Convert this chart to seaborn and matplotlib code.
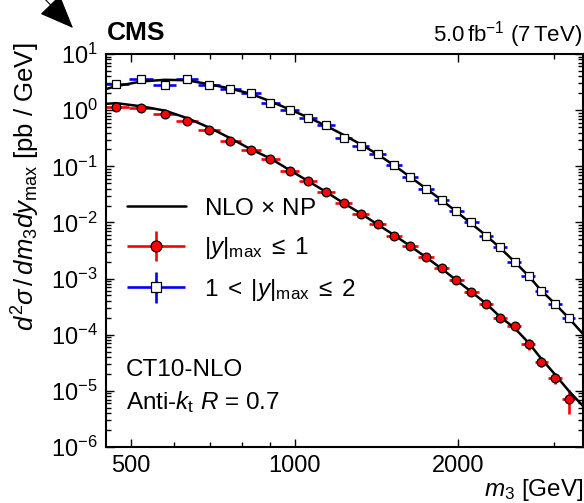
import seaborn as sns
import matplotlib.pyplot as plt
import numpy as np
from matplotlib.patches import FancyArrowPatch
from matplotlib.legend_handler import HandlerErrorbar
from matplotlib.ticker import FixedLocator, FixedFormatter, NullFormatter, LogLocator

sns.set_style("ticks")
plt.rcParams['font.family'] = ['Liberation Sans', 'DejaVu Sans']
plt.rcParams['mathtext.fontset'] = 'custom'
plt.rcParams['mathtext.rm'] = 'Liberation Sans'
plt.rcParams['mathtext.it'] = 'Liberation Sans:italic'
plt.rcParams['mathtext.bf'] = 'Liberation Sans:bold'
plt.rcParams['text.color'] = 'black'
plt.rcParams['axes.labelcolor'] = 'black'

# --- data ---
m3 = [470, 523, 577, 635, 697, 762, 831, 903, 979, 1059, 1144, 1231, 1325, 1423,
      1526, 1633, 1745, 1865, 1985, 2115, 2253, 2392, 2539, 2694, 2835, 3015, 3192]
m3_lo = [445, 496, 549, 605, 665, 729, 796, 866, 940, 1018, 1101, 1187, 1277, 1373,
         1474, 1579, 1688, 1804, 1924, 2049, 2183, 2321, 2464, 2615, 2764, 2924, 3102]
m3_hi = [496, 549, 605, 665, 729, 796, 866, 940, 1018, 1101, 1187, 1277, 1373, 1474,
         1579, 1688, 1804, 1924, 2049, 2183, 2321, 2464, 2615, 2764, 2924, 3102, 3280]

xsec_central = [1.16, 1.09, 0.86, 0.644, 0.44, 0.287, 0.195, 0.137, 0.0824, 0.0542,
                0.0352, 0.0218, 0.01406, 0.00944, 0.00577, 0.00388, 0.00240, 0.001546,
                0.000933, 0.000586, 0.000359, 0.000197, 0.0001425, 6.9e-5, 3.33e-5,
                1.71e-5, 7.08e-6]
xsec_forward = [2.95, 3.58, 2.75, 3.52, 2.75, 2.43, 2.06, 1.33, 1.0, 0.714, 0.546,
                0.324, 0.228, 0.164, 0.1042, 0.0637, 0.0393, 0.0250, 0.0159, 0.0100,
                0.00577, 0.00362, 0.00198, 0.0011, 0.000611, 0.000352, 0.000201]
err_central_pct = [4, 4, 4, 4, 4, 4, 4, 4, 5, 5, 5, 5, 6, 6, 6, 7, 7, 8, 8, 9, 10,
                   10, 12, 22, 20, 22, 45]
err_forward_pct = [4, 4, 4, 4, 4, 4, 4, 4, 4, 4, 4, 4, 5, 5, 5, 5, 5, 6, 6, 6, 7,
                   7, 8, 9, 10, 12, 15]

theory_m3 = [450, 470, 523, 577, 635, 697, 762, 831, 903, 979, 1059, 1144, 1231, 1325,
             1423, 1526, 1633, 1745, 1865, 1985, 2115, 2253, 2392, 2539, 2694, 2835,
             3015, 3192, 3400]
theory_central = [1.296, 1.334, 1.169, 0.984, 0.72, 0.489, 0.316, 0.201, 0.138, 0.0859,
                  0.0546, 0.0348, 0.0221, 0.01436, 0.00914, 0.00593, 0.00378, 0.0024,
                  0.0015, 0.000933, 0.000581, 0.000356, 0.000206, 0.000132, 7.2e-5,
                  3.88e-5, 1.95e-5, 1.01e-5, 5.25e-6]
theory_forward = [2.371, 2.683, 3.241, 3.475, 3.404, 2.89, 2.43, 1.954, 1.436, 1.033,
                  0.743, 0.525, 0.362, 0.245, 0.1625, 0.1033, 0.0644, 0.0402, 0.0250,
                  0.0156, 0.00952, 0.00581, 0.00348, 0.0020, 0.00112, 0.00063, 0.000355,
                  0.0002, 0.000101]

label_central = r'$|y|_{\mathrm{max}}\;\leq\;1$'
label_forward = r'$1\;<\;|y|_{\mathrm{max}}\;\leq\;2$'

fig = plt.figure(figsize=(5.84, 5.03), dpi=100)
ax = fig.add_axes([0.1815, 0.1113, 0.8176, 0.7813])
ax.set_xscale('log')
ax.set_yscale('log')

# theory curves
sns.lineplot(x=theory_m3, y=theory_forward, ax=ax, color='black', lw=1.8,
             label='_nolegend_', zorder=2)
sns.lineplot(x=theory_m3, y=theory_central, ax=ax, color='black', lw=1.8,
             label=r'NLO $\times$ NP', zorder=2)


def draw_points(y, pct, color, marker, face, ms, label):
    x = np.array(m3)
    y = np.array(y)
    xerr = [x - np.array(m3_lo), np.array(m3_hi) - x]
    yerr = y * np.array(pct) / 100.0
    cont = ax.errorbar(x, y, xerr=xerr, yerr=yerr, fmt=marker, color=color,
                       mfc=face, mec='black', mew=0.9, ms=ms, elinewidth=1.9,
                       capsize=0, label=label, zorder=3)
    for bl in cont[2]:
        bl.set_zorder(1.5)
    return cont


h_c = draw_points(xsec_central, err_central_pct, 'red', 'o', 'red', 6.3, label_central)
h_f = draw_points(xsec_forward, err_forward_pct, 'blue', 's', 'white', 5.6, label_forward)

ax.set_xlim(450, 3400)
ax.set_ylim(1e-6, 10)

ax.xaxis.set_major_locator(FixedLocator([500, 1000, 2000]))
ax.xaxis.set_major_formatter(FixedFormatter(['500', '1000', '2000']))
ax.xaxis.set_minor_locator(FixedLocator([600, 700, 800, 900, 3000]))
ax.xaxis.set_minor_formatter(NullFormatter())
ax.yaxis.set_major_locator(LogLocator(base=10, numticks=20))
ax.yaxis.set_minor_locator(LogLocator(base=10, subs=np.arange(2, 10), numticks=20))
ax.yaxis.set_minor_formatter(NullFormatter())

ax.tick_params(which='both', direction='in', top=True, right=True, width=1.0,
               labelsize=17, colors='black')
ax.tick_params(which='major', length=6)
ax.tick_params(which='minor', length=3.5)
ax.tick_params(axis='y', pad=6)
ax.tick_params(axis='x', pad=6)
for s in ax.spines.values():
    s.set_linewidth(1.5)
    s.set_color('black')

ax.set_xlabel(r'$m_{3}$ [GeV]', fontsize=17.5, loc='right')
ax.xaxis.set_label_coords(1.0, -0.076)
ax.set_ylabel(r'$d^{2}\sigma\,/\,dm_{3}dy_{\mathrm{max}}$ [pb / GeV]', fontsize=18.5,
              loc='top')
ax.yaxis.set_label_coords(-0.135, 1.028)

handles, labels = ax.get_legend_handles_labels()
line_h = [h for h, l in zip(handles, labels) if l.startswith('NLO')][0]
err_handler = HandlerErrorbar(xerr_size=1.2, yerr_size=0.62)
ax.legend([line_h, h_c, h_f], [r'NLO $\times$ NP', label_central, label_forward],
          loc='upper left', bbox_to_anchor=(0.043, 0.634), frameon=False,
          fontsize=17.5, handlelength=2.45, handletextpad=0.75, labelspacing=0.64,
          borderpad=0, borderaxespad=0, markerscale=1.25,
          handler_map={h_c: err_handler, h_f: err_handler})

ax.text(0.041, 0.196, 'CT10-NLO', transform=ax.transAxes, fontsize=17.5, va='center')
ax.text(0.041, 0.115, r'Anti-$k_{\mathrm{t}}$ $R$ = 0.7', transform=ax.transAxes,
        fontsize=17.5, va='center')

fig.text(0.1827, 0.934, 'CMS', fontsize=19, fontweight='bold', va='center', ha='left')
fig.text(0.997, 0.932, r'5.0$\,$fb$^{-1}$ (7$\,$TeV)', fontsize=16, va='center',
         ha='right')

# arrow head poking in at the top-left corner
fig.patches.append(FancyArrowPatch(
    (38 / 584, 1 + 8 / 503), (73 / 584, 1 - 28 / 503), transform=fig.transFigure,
    arrowstyle='-|>,head_length=2.2,head_width=0.9', color='black', lw=0.8,
    mutation_scale=10, shrinkA=0, shrinkB=0, clip_on=False))

fig.savefig('out.png', dpi=100)
